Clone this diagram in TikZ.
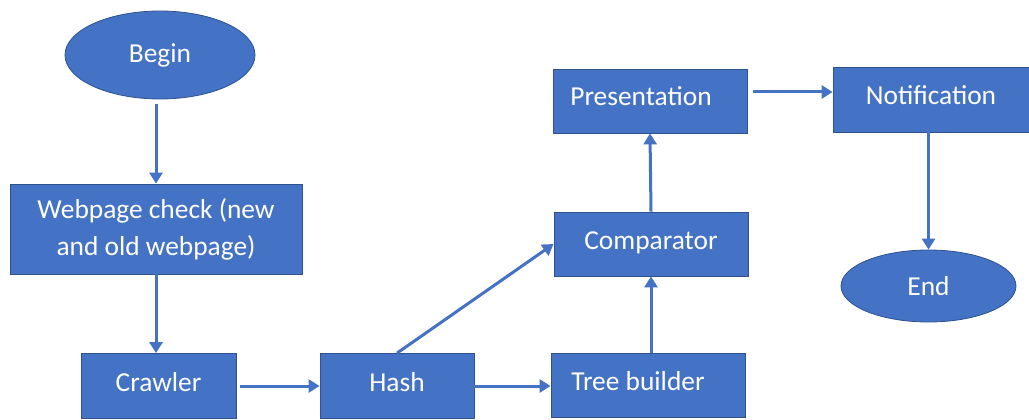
\documentclass[tikz,border=0pt]{standalone}
\usepackage{fontspec}
\setmainfont{Carlito}
\usetikzlibrary{arrows.meta,shapes.geometric}
\definecolor{boxblue}{HTML}{4472C4}
\definecolor{edgeblue}{HTML}{2F528F}
\tikzset{
  box/.style={draw=edgeblue, line width=0.8pt, fill=boxblue, text=white, inner sep=0pt, align=center, font=\fontsize{27.4}{37}\selectfont},
  onebox/.style={box, text height=18pt, text depth=8pt},
  oval/.style={box, ellipse},
  arr/.style={draw=boxblue, line width=3pt, -{Triangle[length=11pt,width=13pt]}}
}
\begin{document}
\begin{tikzpicture}[x=1pt,y=-1pt]
\useasboundingbox (0,0) rectangle (1029,420);
\begin{scope}
\clip (0,0) rectangle (1029,420);
\node[oval, minimum width=190, minimum height=88] (begin) at (160,55) {Begin};
\node[box, minimum width=292, minimum height=90] (web) at (156,229) {Webpage check (new\\and old webpage)};
\node[onebox, minimum width=155, minimum height=65] (crawler) at (158.5,386) {Crawler};
\node[onebox, minimum width=154, minimum height=65] (hash) at (397,386) {Hash};
\node[onebox, minimum width=194, minimum height=64] (tree) at (648,385) {\hspace*{-20pt}Tree builder};
\node[onebox, minimum width=194, minimum height=64] (comp) at (651,244) {Comparator};
\node[onebox, minimum width=194, minimum height=64] (pres) at (650,101) {\hspace*{-18pt}Presentation};
\node[onebox, minimum width=196, minimum height=65] (notif) at (931,99.5) {Notification};
\node[oval, minimum width=175, minimum height=72] (end) at (928.5,286) {End};

\draw[arr, shorten <=5pt] (begin.south -| web.north) -- (web.north);
\draw[arr] (web.south) -- (web.south |- crawler.north);
\draw[arr, shorten <=4pt] (crawler.east) -- (crawler.east -| hash.west);
\draw[arr] (hash.east) -- (hash.east -| tree.west);
\draw[arr] (hash.north) -- (comp.west);
\draw[arr] (comp.south |- tree.north) -- (comp.south);
\draw[arr] (comp.north) -- (pres.south);
\draw[arr, shorten <=6pt] (pres.east) ++(0,-9) -- (notif.west |- 0,92);
\draw[arr] (notif.south -| end.north) -- (end.north);
\end{scope}
\end{tikzpicture}
\end{document}
